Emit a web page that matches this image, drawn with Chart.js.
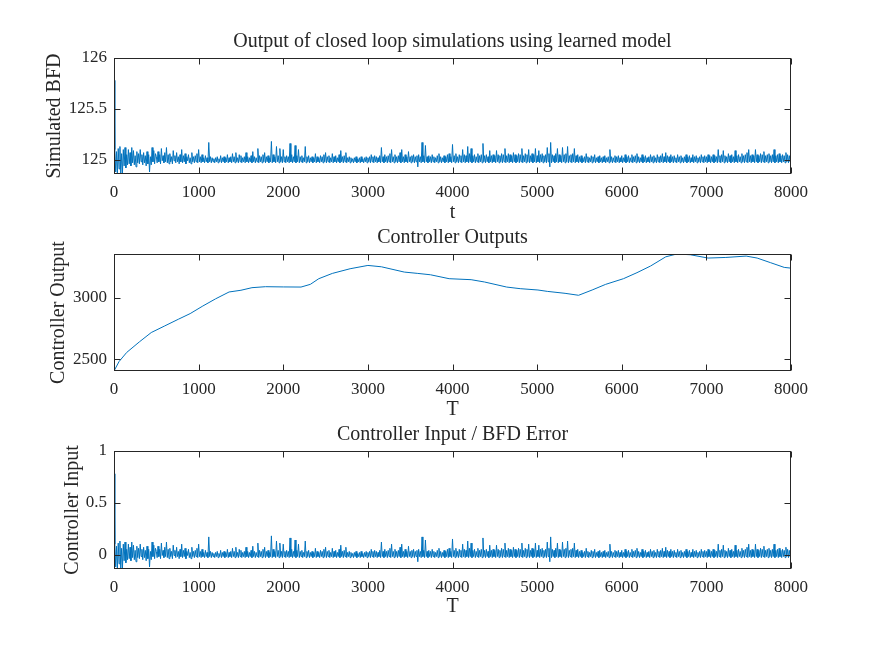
<!DOCTYPE html>
<html>
<head>
<meta charset="utf-8">
<title>Closed loop simulations</title>
<script src="https://cdn.jsdelivr.net/npm/chart.js@4.4.0/dist/chart.umd.min.js"></script>
<style>
  html, body { margin: 0; padding: 0; background: #fff; }
  #page { position: relative; width: 875px; height: 656px; overflow: hidden; }
  .panel { position: absolute; left: 0; width: 875px; }
</style>
</head>
<body>
<div id="page">
  <div class="panel" style="top:0;height:225px"><canvas id="bfdChart" width="875" height="225"></canvas></div>
  <div class="panel" style="top:225px;height:197px"><canvas id="ctrlChart" width="875" height="197"></canvas></div>
  <div class="panel" style="top:422px;height:234px"><canvas id="errChart" width="875" height="234"></canvas></div>
</div>
<script>
// ── Data ─────────────────────────────────────────────────
const STEP = 10;          // samples between traced error values
const BFD_SETPOINT = 125; // simulated BFD = setpoint + error

// BFD error, every 10 samples (0 … 8000)
const bfdError = [
  // 0 – 490
  0.78, 0.1, -0.12, 0.08, -0.15, 0.11, -0.09, 0.13, -0.15, 0.06,
  -0.13, 0.1, -0.06, 0.12, -0.08, 0.05, -0.05, 0.1, -0.04, 0.07,
  -0.06, 0.12, -0.03, 0.09, -0.05, 0.04, -0.07, 0.08, -0.03, 0.06,
  -0.04, 0.1, -0.02, 0.05, -0.05, 0.07, -0.03, 0.04, -0.06, 0.08,
  -0.04, 0.05, -0.12, 0.03, -0.05, 0.12, -0.02, 0.09, -0.04, 0.06,
  // 500 – 990
  0.03, -0.03, 0.08, -0.02, 0.05, -0.04, 0.11, -0.01, 0.04, -0.03,
  0.07, -0.02, 0.12, -0.03, 0.05, -0.04, 0.06, -0.02, 0.03, -0.04,
  0.09, -0.01, 0.04, -0.03, 0.07, -0.02, 0.03, -0.04, 0.05, -0.02,
  0.1, -0.03, 0.04, -0.02, 0.06, -0.04, 0.03, -0.01, 0.05, -0.03,
  0.02, -0.04, 0.07, -0.02, 0.03, -0.03, 0.04, -0.02, 0.06, -0.03,
  // 1000 – 1490
  0.1, -0.02, 0.03, -0.03, 0.05, -0.02, 0.02, -0.03, 0.04, -0.02,
  0.02, -0.03, 0.17, -0.02, 0.03, -0.03, 0.02, -0.02, 0.01, -0.03,
  0.02, -0.02, 0.03, -0.03, 0.01, -0.02, 0.04, -0.03, 0.02, -0.02,
  0.03, -0.03, 0.02, -0.02, 0.05, -0.03, 0.02, -0.02, 0.03, -0.03,
  0.06, -0.02, 0.03, -0.03, 0.07, -0.02, 0.02, -0.03, 0.05, -0.02,
  // 1500 – 1990
  0.04, -0.03, 0.02, -0.02, 0.03, -0.03, 0.07, -0.02, 0.03, -0.03,
  0.02, -0.02, 0.04, -0.03, 0.08, -0.02, 0.03, -0.03, 0.02, -0.02,
  0.11, -0.03, 0.04, -0.02, 0.03, -0.03, 0.05, -0.02, 0.07, -0.03,
  0.03, -0.02, 0.04, -0.03, 0.02, -0.02, 0.18, -0.03, 0.05, -0.02,
  0.03, -0.03, 0.13, -0.02, 0.04, -0.03, 0.11, -0.02, 0.03, -0.03,
  // 2000 – 2490
  0.1, -0.02, 0.03, -0.03, 0.04, -0.02, 0.03, -0.03, 0.16, -0.02,
  0.05, -0.03, 0.03, -0.02, 0.14, -0.03, 0.04, -0.02, 0.1, -0.03,
  0.03, -0.02, 0.04, -0.03, 0.02, -0.02, 0.13, -0.03, 0.03, -0.02,
  0.04, -0.03, 0.02, -0.02, 0.03, -0.03, 0.02, -0.02, 0.06, -0.03,
  0.03, -0.02, 0.02, -0.03, 0.04, -0.02, 0.03, -0.03, 0.05, -0.02,
  // 2500 – 2990
  0.07, -0.03, 0.03, -0.02, 0.04, -0.03, 0.02, -0.02, 0.06, -0.03,
  0.03, -0.02, 0.04, -0.03, 0.02, -0.02, 0.05, -0.03, 0.09, -0.02,
  0.03, -0.03, 0.04, -0.02, 0.07, -0.03, 0.02, -0.02, 0.03, -0.03,
  0.02, -0.02, 0.01, -0.03, 0.02, -0.02, 0.03, -0.03, 0.01, -0.02,
  0.02, -0.03, 0.03, -0.02, 0.01, -0.03, 0.02, -0.02, 0.03, -0.03,
  // 3000 – 3490
  0.02, -0.02, 0.03, -0.03, 0.05, -0.02, 0.03, -0.03, 0.04, -0.02,
  0.03, -0.03, 0.02, -0.02, 0.04, -0.03, 0.12, -0.02, 0.03, -0.03,
  0.05, -0.02, 0.03, -0.03, 0.04, -0.02, 0.06, -0.03, 0.1, -0.02,
  0.03, -0.03, 0.05, -0.02, 0.03, -0.03, 0.04, -0.02, 0.07, -0.03,
  0.1, -0.02, 0.03, -0.03, 0.05, -0.02, 0.03, -0.03, 0.08, -0.02,
  // 3500 – 3990
  0.03, -0.03, 0.04, -0.02, 0.05, -0.03, 0.03, -0.02, 0.04, -0.07,
  0.05, -0.02, 0.03, -0.03, 0.17, -0.02, 0.04, -0.03, 0.14, -0.02,
  0.03, -0.03, 0.04, -0.02, 0.03, -0.03, 0.05, -0.02, 0.03, -0.03,
  0.02, -0.02, 0.04, -0.03, 0.06, -0.02, 0.03, -0.03, 0.02, -0.02,
  0.04, -0.03, 0.03, -0.02, 0.05, -0.03, 0.06, -0.02, 0.03, -0.03,
  // 4000 – 4490
  0.15, -0.02, 0.04, -0.03, 0.06, -0.02, 0.03, -0.03, 0.05, -0.02,
  0.04, -0.03, 0.1, -0.02, 0.05, -0.03, 0.04, -0.02, 0.13, -0.03,
  0.06, -0.02, 0.11, -0.03, 0.04, -0.02, 0.05, -0.03, 0.03, -0.02,
  0.06, -0.03, 0.04, -0.02, 0.05, -0.03, 0.16, -0.02, 0.04, -0.03,
  0.05, -0.02, 0.03, -0.03, 0.09, -0.02, 0.04, -0.03, 0.05, -0.02,
  // 4500 – 4990
  0.04, -0.03, 0.09, -0.02, 0.05, -0.03, 0.04, -0.02, 0.06, -0.03,
  0.05, -0.02, 0.11, -0.03, 0.04, -0.02, 0.06, -0.03, 0.05, -0.02,
  0.04, -0.03, 0.07, -0.02, 0.05, -0.03, 0.04, -0.02, 0.06, -0.03,
  0.05, -0.02, 0.11, -0.03, 0.04, -0.02, 0.06, -0.03, 0.05, -0.02,
  0.1, -0.03, 0.04, -0.02, 0.06, -0.03, 0.05, -0.02, 0.11, -0.03,
  // 5000 – 5490
  0.04, -0.02, 0.09, -0.03, 0.05, -0.02, 0.06, -0.03, 0.04, -0.02,
  0.05, -0.03, 0.12, -0.02, 0.06, -0.07, 0.17, -0.03, 0.05, -0.02,
  0.04, -0.03, 0.06, -0.02, 0.11, -0.03, 0.05, -0.02, 0.04, -0.03,
  0.12, -0.02, 0.05, -0.03, 0.06, -0.02, 0.13, -0.03, 0.04, -0.02,
  0.05, -0.03, 0.06, -0.02, 0.11, -0.03, 0.04, -0.02, 0.05, -0.03,
  // 5500 – 5990
  0.03, -0.02, 0.04, -0.03, 0.02, -0.02, 0.03, -0.03, 0.06, -0.02,
  0.03, -0.03, 0.02, -0.02, 0.04, -0.03, 0.03, -0.02, 0.05, -0.03,
  0.02, -0.02, 0.03, -0.03, 0.04, -0.02, 0.02, -0.03, 0.03, -0.02,
  0.04, -0.03, 0.02, -0.02, 0.03, -0.03, 0.1, -0.02, 0.03, -0.03,
  0.02, -0.02, 0.04, -0.03, 0.03, -0.02, 0.04, -0.03, 0.02, -0.02,
  // 6000 – 6490
  0.04, -0.03, 0.02, -0.02, 0.05, -0.03, 0.03, -0.02, 0.04, -0.03,
  0.02, -0.02, 0.05, -0.03, 0.03, -0.02, 0.04, -0.03, 0.06, -0.02,
  0.03, -0.03, 0.02, -0.02, 0.05, -0.03, 0.03, -0.02, 0.04, -0.03,
  0.02, -0.02, 0.03, -0.03, 0.05, -0.02, 0.03, -0.03, 0.04, -0.02,
  0.02, -0.03, 0.05, -0.02, 0.03, -0.03, 0.04, -0.02, 0.06, -0.03,
  // 6500 – 6990
  0.03, -0.02, 0.07, -0.03, 0.04, -0.02, 0.03, -0.03, 0.05, -0.02,
  0.03, -0.03, 0.04, -0.02, 0.02, -0.03, 0.05, -0.02, 0.03, -0.03,
  0.04, -0.02, 0.02, -0.03, 0.03, -0.02, 0.05, -0.03, 0.03, -0.02,
  0.04, -0.03, 0.02, -0.02, 0.05, -0.03, 0.03, -0.02, 0.04, -0.03,
  0.02, -0.02, 0.03, -0.03, 0.05, -0.02, 0.03, -0.03, 0.04, -0.02,
  // 7000 – 7490
  0.03, -0.03, 0.05, -0.02, 0.04, -0.03, 0.03, -0.02, 0.05, -0.03,
  0.04, -0.02, 0.03, -0.03, 0.1, -0.02, 0.04, -0.03, 0.05, -0.02,
  0.09, -0.03, 0.04, -0.02, 0.03, -0.03, 0.06, -0.02, 0.04, -0.03,
  0.05, -0.02, 0.03, -0.03, 0.09, -0.02, 0.04, -0.03, 0.05, -0.02,
  0.03, -0.03, 0.06, -0.02, 0.04, -0.03, 0.05, -0.02, 0.07, -0.03,
  // 7500 – 8000
  0.1, -0.02, 0.04, -0.03, 0.05, -0.02, 0.04, -0.03, 0.1, -0.02,
  0.05, -0.03, 0.04, -0.02, 0.06, -0.03, 0.05, -0.02, 0.08, -0.03,
  0.04, -0.02, 0.05, -0.03, 0.06, -0.02, 0.04, -0.03, 0.05, -0.02,
  0.1, -0.03, 0.04, -0.02, 0.05, -0.03, 0.06, -0.02, 0.04, -0.03,
  0.05, -0.02, 0.04, -0.03, 0.07, -0.02, 0.05, -0.03, 0.04, -0.02, 0.03
];

// Controller output, traced at the curve's turning points
const ctrlT   = [0, 60, 150, 300, 440, 600, 760, 900, 1050, 1200, 1360, 1500, 1630, 1790, 2000, 2210, 2320, 2420, 2580, 2790, 3000,
                 3160, 3430, 3590, 3740, 3960, 4220, 4380, 4640, 4800, 5010, 5120, 5330, 5490, 5650, 5810, 6020, 6180, 6340,
                 6520, 6650, 6810, 7020, 7230, 7470, 7600, 7760, 7920, 8000];
const ctrlOut = [2403, 2480, 2554, 2640, 2716, 2770, 2824, 2870, 2932, 2990, 3046, 3060, 3081, 3089, 3087, 3086, 3108, 3154, 3197, 3235, 3262,
                 3251, 3208, 3197, 3186, 3154, 3146, 3127, 3086, 3073, 3062, 3051, 3035, 3019, 3062, 3108, 3154, 3203, 3257,
                 3332, 3355, 3349, 3322, 3327, 3338, 3322, 3284, 3246, 3240];

const xTicks    = [0, 1000, 2000, 3000, 4000, 5000, 6000, 7000, 8000];
const bfdTicks  = [125, 125.5, 126];
const ctrlTicks = [2500, 3000];
const errTicks  = [0, 0.5, 1];

// ── Styling ──────────────────────────────────────────────
const LINE = '#0072BD';
const INK  = '#262626';
const FONT = "'Liberation Serif', 'DejaVu Serif', serif";
const TEXT_SIZE = 20;
const TICK_SIZE = 17;
const TICK_LEN = 6;

// MATLAB-like box with inward ticks on all four sides
const boxTicks = {
    id: 'boxTicks',
    afterDatasetsDraw(chart) {
        const { ctx, chartArea: a, scales: { x, y } } = chart;
        const L = Math.round(a.left) + 0.5, R = Math.round(a.right) - 0.5;
        const T = Math.round(a.top) + 0.5,  B = Math.round(a.bottom) - 0.5;
        ctx.save();
        ctx.strokeStyle = INK;
        ctx.lineWidth = 1;
        ctx.beginPath();
        x.ticks.forEach(t => {
            const px = Math.round(x.getPixelForValue(t.value)) + 0.5;
            ctx.moveTo(px, B); ctx.lineTo(px, B - TICK_LEN);
            ctx.moveTo(px, T); ctx.lineTo(px, T + TICK_LEN);
        });
        y.ticks.forEach(t => {
            const py = Math.round(y.getPixelForValue(t.value)) + 0.5;
            ctx.moveTo(L, py); ctx.lineTo(L + TICK_LEN, py);
            ctx.moveTo(R, py); ctx.lineTo(R - TICK_LEN, py);
        });
        ctx.stroke();
        ctx.strokeRect(L, T, R - L, B - T);
        ctx.restore();
    }
};

// panel title centred over the plot box, like MATLAB's axes title
const panelTitle = {
    id: 'panelTitle',
    afterDraw(chart, args, opts) {
        const { ctx, chartArea: a } = chart;
        ctx.save();
        ctx.font = `${TEXT_SIZE}px ${FONT}`;
        ctx.fillStyle = INK;
        ctx.textAlign = 'center';
        ctx.textBaseline = 'middle';
        ctx.fillText(opts.text, (a.left + a.right) / 2, a.top - 16);
        ctx.restore();
    }
};

function makePanel(id, cfg) {
    return new Chart(document.getElementById(id), {
        type: 'line',
        data: { datasets: [{ data: cfg.points, borderColor: LINE, borderWidth: 1, pointRadius: 0, tension: 0, fill: false }] },
        plugins: [boxTicks, panelTitle],
        options: {
            responsive: false,
            animation: false,
            parsing: false,
            normalized: true,
            layout: { padding: { left: 0, right: 84, top: cfg.top, bottom: 0 } },
            plugins: {
                legend: { display: false },
                tooltip: { enabled: false },
                title: { display: false },
                panelTitle: { text: cfg.title },
            },
            scales: {
                x: {
                    type: 'linear', min: 0, max: 8000,
                    afterBuildTicks: s => { s.ticks = xTicks.map(v => ({ value: v })); },
                    afterFit: s => { s.height = cfg.xHeight; },
                    grid: { display: false, drawTicks: false },
                    border: { display: false },
                    ticks: { color: INK, padding: 8, maxRotation: 0, font: { family: FONT, size: TICK_SIZE }, callback: v => String(v) },
                    title: { display: true, text: cfg.xLabel, color: INK, font: { family: FONT, size: TEXT_SIZE, lineHeight: 1.2 }, padding: { top: 0, bottom: cfg.xTitleBottom } },
                },
                y: {
                    type: 'linear', min: cfg.yMin, max: cfg.yMax,
                    afterBuildTicks: s => { s.ticks = cfg.yTicks.map(v => ({ value: v })); },
                    afterFit: s => { s.width = 114; },
                    grid: { display: false, drawTicks: false },
                    border: { display: false },
                    ticks: { color: INK, padding: 7, font: { family: FONT, size: TICK_SIZE }, callback: v => String(v) },
                    title: { display: true, text: cfg.yLabel, color: INK, font: { family: FONT, size: TEXT_SIZE, lineHeight: 1.2 }, padding: { top: cfg.yTitleLeft, bottom: 0 } },
                },
            },
        },
    });
}

const bfdPoints  = bfdError.map((e, i) => ({ x: i * STEP, y: BFD_SETPOINT + e }));
const errPoints  = bfdError.map((e, i) => ({ x: i * STEP, y: e }));
const ctrlPoints = ctrlT.map((t, i) => ({ x: t, y: ctrlOut[i] }));

makePanel('bfdChart', {
    points: bfdPoints, title: 'Output of closed loop simulations using learned model',
    top: 58, xHeight: 51, xTitleBottom: 0, xLabel: 't',
    yMin: 124.86, yMax: 126, yTicks: bfdTicks, yLabel: 'Simulated BFD', yTitleLeft: 43,
});

makePanel('ctrlChart', {
    points: ctrlPoints, title: 'Controller Outputs',
    top: 29, xHeight: 51, xTitleBottom: 0, xLabel: 'T',
    yMin: 2403, yMax: 3355, yTicks: ctrlTicks, yLabel: 'Controller Output', yTitleLeft: 47,
});

makePanel('errChart', {
    points: errPoints, title: 'Controller Input / BFD Error',
    top: 29, xHeight: 87, xTitleBottom: 37, xLabel: 'T',
    yMin: -0.14, yMax: 1, yTicks: errTicks, yLabel: 'Controller Input', yTitleLeft: 61,
});
</script>
</body>
</html>
